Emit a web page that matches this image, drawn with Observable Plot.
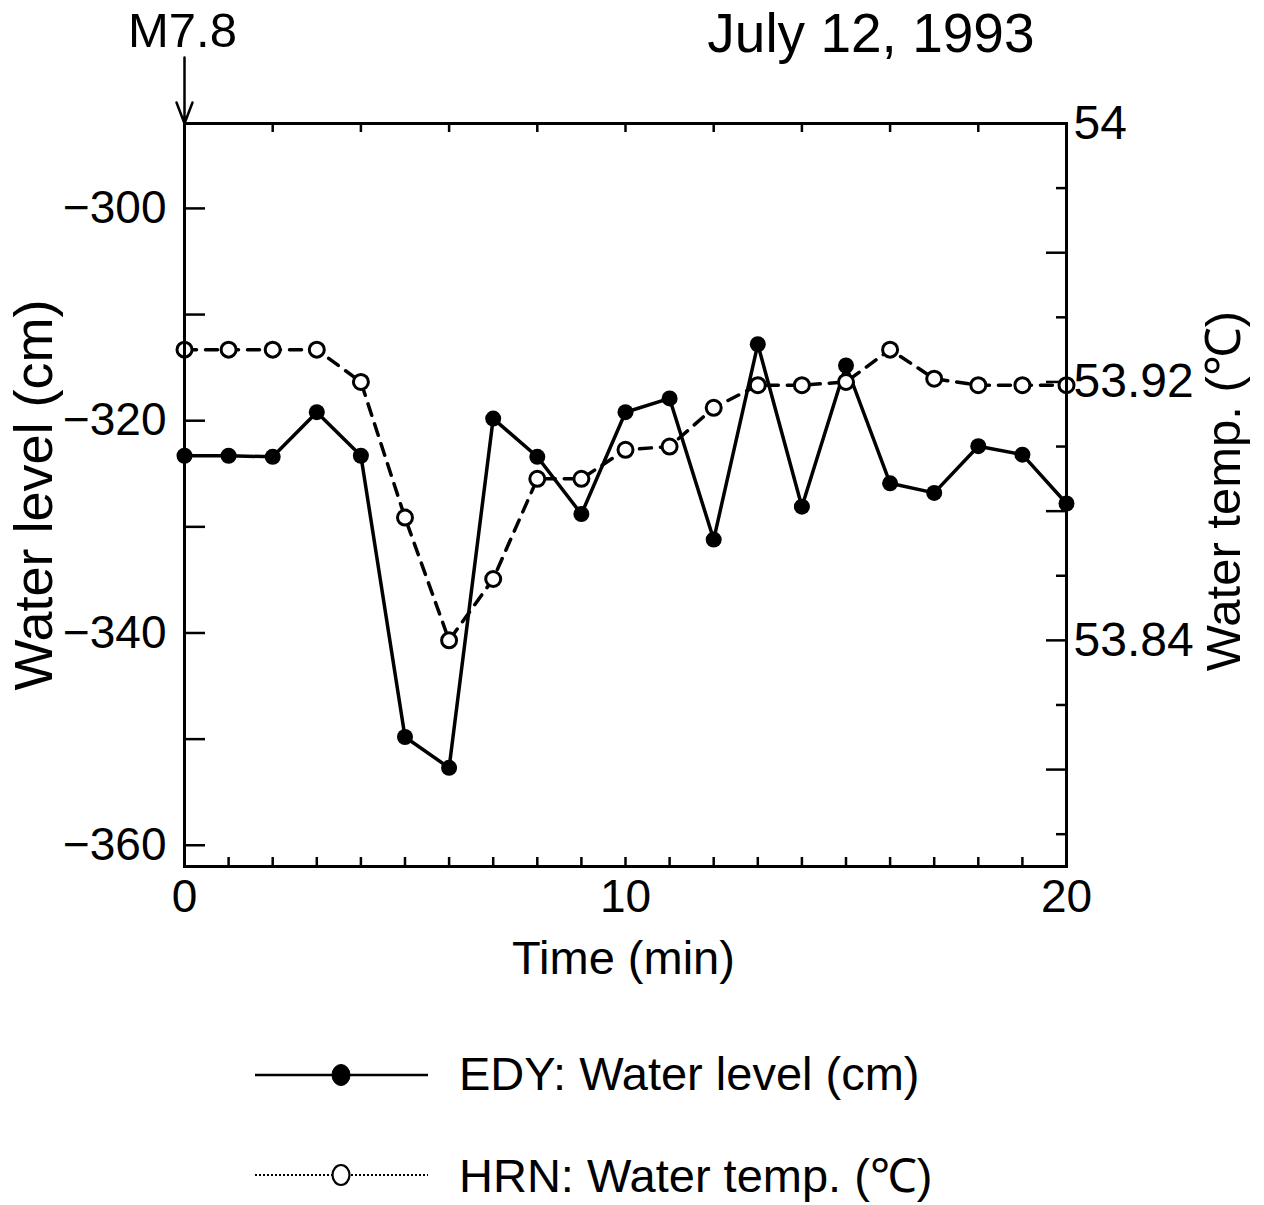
<!DOCTYPE html>
<html>
<head>
<meta charset="utf-8">
<script src="https://cdn.jsdelivr.net/npm/d3@7"></script>
<script src="https://cdn.jsdelivr.net/npm/@observablehq/plot@0.6"></script>
<style>
  html, body { margin: 0; padding: 0; background: #fff; }
  body { width: 1264px; font-family: "Liberation Sans", Arial, Helvetica, sans-serif; color: #000; }
  #legend { position: relative; width: 1264px; height: 195px; }
  .row { position: absolute; left: 0; width: 1264px; height: 60px; }
  .row svg { position: absolute; left: 250px; top: 0; }
  .row span { position: absolute; left: 459px; top: 50%; transform: translateY(-52%); font-size: 47px; white-space: nowrap; }
</style>
</head>
<body>
<div id="chart"></div>
<div id="legend"></div>
<script>
// ---- data ----
const minutes = [0, 1, 2, 3, 4, 5, 6, 7, 8, 9, 10, 11, 12, 13, 14, 15, 16, 17, 18, 19, 20];
const waterLevel = [-323.3, -323.3, -323.4, -319.2, -323.3, -349.8, -352.7, -319.8, -323.4, -328.8, -319.2,
                    -317.9, -331.2, -312.8, -328.1, -314.8, -325.9, -326.8, -322.4, -323.2, -327.8];
const waterTemp = [53.930, 53.930, 53.930, 53.930, 53.920, 53.878, 53.840, 53.859, 53.890, 53.890, 53.899,
                   53.900, 53.912, 53.919, 53.919, 53.920, 53.930, 53.921, 53.919, 53.919, 53.919];

const xTickLabels = [0, 10, 20];
const xMinorTicks = [0, 1, 2, 3, 4, 5, 6, 7, 8, 9, 10, 11, 12, 13, 14, 15, 16, 17, 18, 19, 20];
const xTopTicks = [2, 4, 6, 8, 10, 12, 14, 16, 18];
const levelTickLabels = [-360, -340, -320, -300];
const levelTicks = [-360, -350, -340, -330, -320, -310, -300];
const levelDomain = [-362, -292];
const tempDomain = [53.77, 54];
const tempTickValues = [53.84, 53.92, 54];
const tempTickLabels = ["53.84", "53.92", "54"];
const tempMajorTicks = [53.80, 53.84, 53.88, 53.92, 53.96];
const tempMinorTicks = [53.78, 53.82, 53.86, 53.90, 53.94, 53.98];
const title = "July 12, 1993";
const event = [{time: 0, label: "M7.8"}];
const seriesNames = ["EDY: Water level (cm)", "HRN: Water temp. (\u2103)"];
const axisTitles = {x: "Time (min)", y: "Water level (cm)", y2: "Water temp. (\u2103)"};

// ---- layout ----
const W = 1264, H = 1010;
const mL = 184, mR = 198, mT = 123, mB = 144;
const plotW = W - mL - mR, plotH = H - mT - mB;

// secondary (temperature) axis mapped onto the primary y scale
const tempToY = d3.scaleLinear().domain(tempDomain).range(levelDomain);

const levelData = minutes.map((t, i) => ({t, v: waterLevel[i]}));
const tempData = minutes.map((t, i) => ({t, v: tempToY(waterTemp[i])}));

const font = '"Liberation Sans", Arial, Helvetica, sans-serif';

// narrow arrowhead for the earthquake marker
const narrowArrow = {
  draw(context, l) {
    context.moveTo(0, 0);
    context.lineTo(0, -l);
    context.moveTo(-8, 21 - l);
    context.lineTo(0, -l);
    context.lineTo(8, 21 - l);
  }
};

const chart = Plot.plot({
  width: W, height: H,
  marginLeft: mL, marginRight: mR, marginTop: mT, marginBottom: mB,
  style: {fontFamily: font, fontSize: "46px", color: "#000", background: "#fff"},
  x: {domain: [0, 20]},
  y: {domain: levelDomain},
  marks: [
    // tick labels
    Plot.axisY({ticks: levelTickLabels, tickSize: 0, tickPadding: 18, label: null, fontSize: 46}),
    Plot.axisX({ticks: xTickLabels, tickSize: 0, tickPadding: 13, label: null, fontSize: 46}),
    Plot.text(tempTickValues, {y: d => tempToY(d), text: (d, i) => tempTickLabels[i],
      frameAnchor: "right", textAnchor: "start", lineAnchor: "middle", dx: 7, fontSize: 48}),
    // inward ticks
    Plot.tickY(levelTicks, {y: d => d, insetRight: plotW - 21, strokeWidth: 2.5}),
    Plot.tickY(tempMajorTicks, {y: d => tempToY(d), insetLeft: plotW - 20, strokeWidth: 2.5}),
    Plot.tickY(tempMinorTicks, {y: d => tempToY(d), insetLeft: plotW - 10, strokeWidth: 2.5}),
    Plot.tickX(xMinorTicks, {x: d => d, insetTop: plotH - 9, strokeWidth: 2.5}),
    Plot.tickX(xTopTicks, {x: d => d, insetBottom: plotH - 9, strokeWidth: 2.5}),
    // axis titles
    Plot.text([axisTitles.y], {frameAnchor: "left", textAnchor: "middle", lineAnchor: "middle",
      dx: -150, rotate: -90, fontSize: 54}),
    Plot.text([axisTitles.y2], {frameAnchor: "right", textAnchor: "middle", lineAnchor: "middle",
      dx: 158, dy: -4, rotate: -90, fontSize: 49}),
    Plot.text([axisTitles.x], {frameAnchor: "bottom", textAnchor: "middle", lineAnchor: "middle",
      dx: -2, dy: 92, fontSize: 47}),
    // title & event annotation
    Plot.text([title], {frameAnchor: "top-right", textAnchor: "end", lineAnchor: "middle",
      dx: -32, dy: -89, fontSize: 55, letterSpacing: 4}),
    Plot.text(event, {x: "time", text: "label", frameAnchor: "top", lineAnchor: "middle",
      dy: -92, dx: -2, fontSize: 49}),
    Plot.vector(event, {x: "time", frameAnchor: "top", length: 66, rotate: 180, anchor: "end",
      shape: narrowArrow, strokeWidth: 2.5, stroke: "#000"}),
    // series
    Plot.line(tempData, {x: "t", y: "v", stroke: "#000", strokeWidth: 3.5, strokeDasharray: "12,9"}),
    Plot.line(levelData, {x: "t", y: "v", stroke: "#000", strokeWidth: 3.5}),
    Plot.dot(levelData, {x: "t", y: "v", r: 8, fill: "#000", stroke: "none"}),
    Plot.dot(tempData, {x: "t", y: "v", r: 7.5, fill: "#fff", stroke: "#000", strokeWidth: 3}),
    Plot.frame({stroke: "#000", strokeWidth: 3})
  ]
});
document.getElementById("chart").appendChild(chart);

// ---- legend ----
const legend = document.getElementById("legend");
const rows = [
  {name: seriesNames[0], dash: null, fill: "#000", top: 35},
  {name: seriesNames[1], dash: "2,2", fill: "#fff", top: 135}
];
rows.forEach(r => {
  const row = document.createElement("div");
  row.className = "row";
  row.style.top = r.top + "px";
  row.innerHTML =
    `<svg width="185" height="60" viewBox="0 0 185 60">
       <line x1="5" y1="30" x2="178" y2="30" stroke="#000" stroke-width="${r.dash ? 2 : 2.5}" ${r.dash ? `stroke-dasharray="${r.dash}"` : ""}/>
       <ellipse cx="91" cy="30" rx="${r.dash ? 8.5 : 9}" ry="${r.dash ? 10 : 10.5}" fill="${r.fill}" stroke="#000" stroke-width="${r.dash ? 2.2 : 1}"/>
     </svg>
     <span>${r.name}</span>`;
  legend.appendChild(row);
});
</script>
</body>
</html>
